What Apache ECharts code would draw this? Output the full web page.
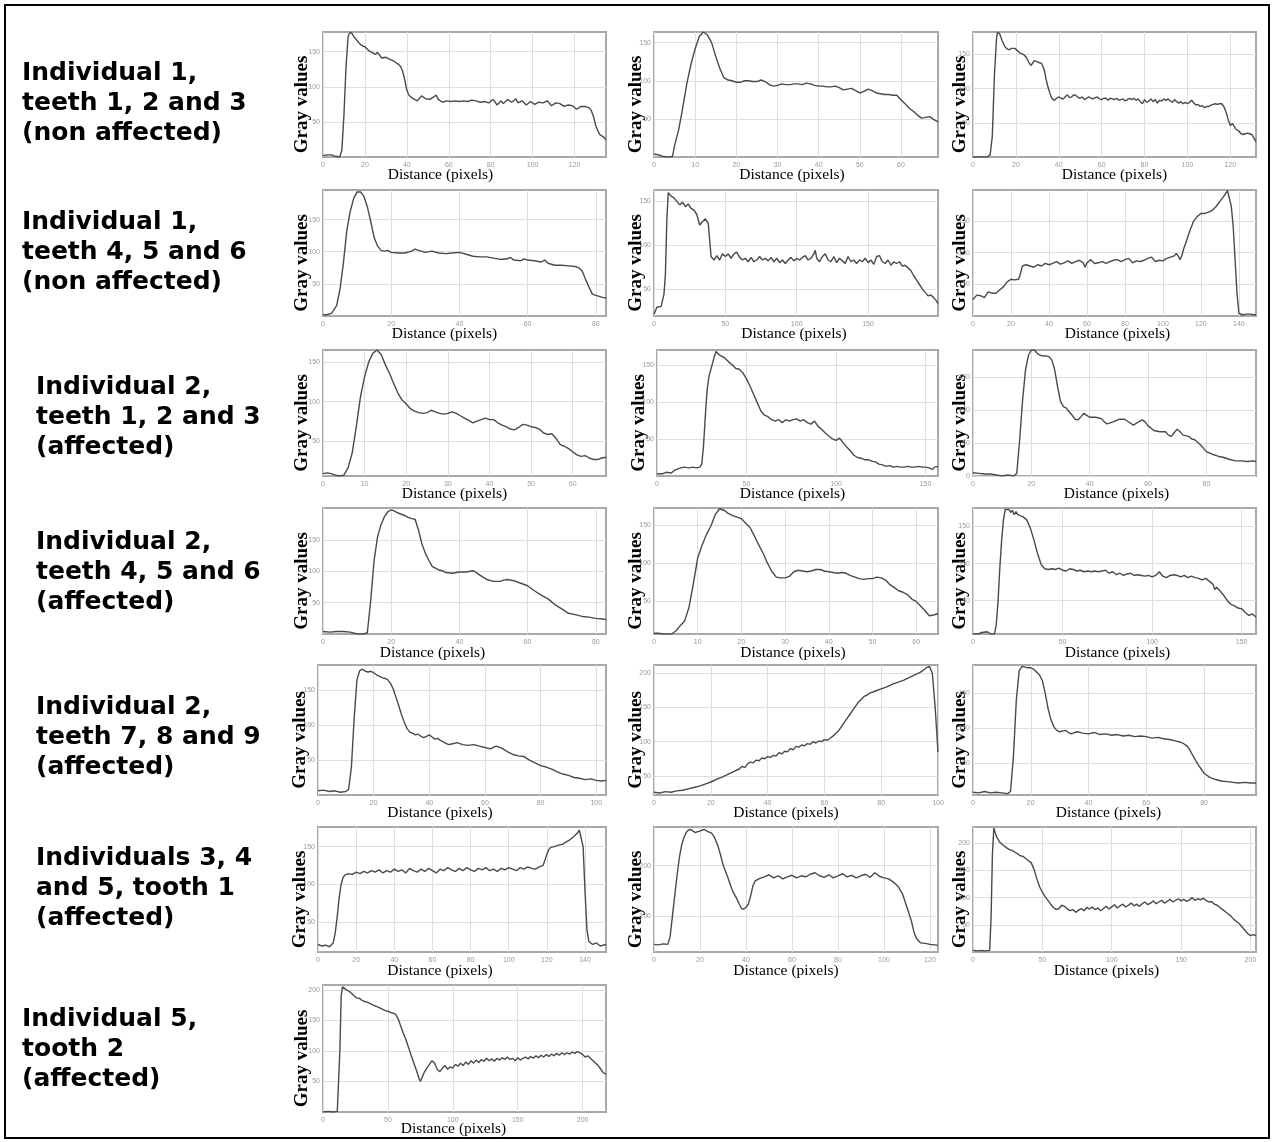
<!DOCTYPE html>
<html><head><meta charset="utf-8">
<script src="https://cdn.jsdelivr.net/npm/echarts@6/dist/echarts.min.js"></script>
<style>html,body{margin:0;padding:0;background:#fff}#c{width:1274px;height:1142px}</style>
</head><body><div id="c"></div>
<script>
// ---------- row labels ----------
const rowLabels = [
  "Individual 1,\nteeth 1, 2 and 3\n(non affected)",
  "Individual 1,\nteeth 4, 5 and 6\n(non affected)",
  "Individual 2,\nteeth 1, 2 and 3\n(affected)",
  "Individual 2,\nteeth 4, 5 and 6\n(affected)",
  "Individual 2,\nteeth 7, 8 and 9\n(affected)",
  "Individuals 3, 4\nand 5, tooth 1\n(affected)",
  "Individual 5,\ntooth 2\n(affected)"
];
const xAxisTitle = "Distance (pixels)";
const yAxisTitle = "Gray values";

// ---------- profiles: [distance, gray value] ----------
const profile1 = [[0,2],[2,3],[4,3],[6,1],[8,0],[9,10],[10,60],[11,130],[12,172],[13,178],[14,175],[15,170],[16,167],[17,163],[18,160],[19,158],[20,157],[22,151],[24,148],[25,146],[26,149],[27,145],[28,141],[30,142],[32,139],[34,136],[36,132],[37,129],[38,122],[39,110],[40,95],[41,88],[43,83],[45,80],[47,87],[49,83],[51,82],[53,86],[54,88],[55,82],[57,78],[59,80],[61,79],[63,80],[65,79],[67,80],[69,79],[71,81],[73,80],[75,78],[77,79],[79,77],[81,82],[82,79],[83,74],[85,80],[86,76],[88,82],[90,78],[92,83],[93,77],[95,80],[97,74],[99,79],[101,75],[103,78],[105,77],[107,80],[109,73],[111,77],[113,76],[115,72],[117,74],[119,73],[121,68],[123,72],[125,72],[127,70],[128,66],[129,58],[130,46],[131,38],[132,32],[133,30],[134,28],[135,24]];
const profile2 = [[0,4],[1,3],[2,1],[3,0],[4,0],[4.5,1],[5,15],[6,36],[7,65],[8,97],[9,122],[10,142],[11,158],[12,164],[13,160],[14,150],[15,132],[16,116],[17,104],[18,101],[19,100],[20,98],[21,98],[22,100],[23,100],[24,99],[25,99],[26,101],[27,99],[28,95],[29,93],[30,94],[31,96],[32,95],[33,95],[34,96],[35,96],[36,95],[37,97],[38,96],[39,94],[40,93],[41,93],[42,92],[43,92],[44,93],[45,91],[46,88],[47,89],[48,90],[49,87],[50,84],[51,86],[52,89],[53,87],[54,84],[55,83],[56,82],[57,82],[58,81],[59,81],[60,75],[61,70],[62,64],[63,60],[64,55],[65,51],[66,52],[67,53],[68,49],[69,46]];
const profile3 = [[0,0],[2,0],[4,0],[6,0],[7,1],[8,3],[9,30],[10,120],[11,175],[11.5,183],[12.5,180],[13.5,171],[15,161],[16,158],[17,157],[18,159],[18.5,161],[19.5,159],[20,157],[21,155],[22,152],[23,151],[24,149],[25,145],[26,139],[27,134],[28,138],[28.5,141],[29.5,140],[30,139],[31,138],[32,137],[33,130],[33.5,124],[34,115],[35,102],[36,92],[36.5,88],[37,85],[38,83],[39,86],[40,88],[41,86],[42,85],[43,88],[44,91],[45,87],[46,88],[47,91],[48,90],[49,87],[50,86],[51,88],[52,84],[53,86],[54,88],[55,86],[56,85],[57,87],[58,88],[59,85],[60,84],[61,86],[62,86],[63,83],[64,86],[65,85],[66,84],[67,86],[68,83],[69,84],[70,85],[71,82],[72,84],[73,86],[74,84],[75,86],[76,83],[77,85],[78,81],[79,78],[80,84],[81,80],[82,82],[83,85],[84,81],[85,84],[86,79],[87,83],[88,82],[89,85],[90,83],[91,85],[92,82],[93,80],[94,84],[95,81],[96,79],[97,81],[98,78],[99,80],[100,78],[101,80],[102,83],[103,79],[104,76],[105,77],[106,74],[107,75],[108,72],[109,74],[110,74],[111,76],[112,77],[113,78],[114,77],[115,78],[115.5,79],[116,78],[117,74],[118,66],[118.5,61],[119,55],[120,46],[121,49],[122,44],[122.5,41],[123,40],[124,38],[125,34],[125.5,32],[126,33],[127,34],[128,35],[129,34],[130,33],[130.5,32],[131,28],[132,22]];
const profile4 = [[0,2],[1,2],[2.5,4],[4,16],[5,42],[6,83],[7,134],[8,163],[9,183],[10,193],[11,193],[12,186],[13,170],[14,147],[15,122],[16,109],[17,102],[18,101],[19,102],[20,99],[22,98],[24,98],[26,101],[27,104],[28,102],[30,99],[32,101],[34,98],[36,97],[38,98],[40,99],[42,96],[44,93],[46,92],[48,92],[50,90],[52,88],[54,89],[55,91],[56,87],[58,86],[59,89],[60,87],[62,86],[64,84],[65,87],[66,82],[68,79],[70,79],[72,78],[74,77],[75,75],[76,70],[77,57],[78,45],[79,34],[80,32],[82,29],[83,28]];
const profile5 = [[0,21],[2,29],[5,30],[7,44],[8,67],[9,129],[10,160],[11,162],[12,156],[14,154],[16,150],[18,146],[20,149],[22,144],[24,147],[26,142],[28,140],[30,135],[32,123],[34,127],[36,130],[38,125],[39,106],[40,87],[42,83],[44,88],[46,83],[48,90],[50,87],[52,90],[54,85],[56,90],[58,92],[60,86],[62,83],[64,85],[66,81],[68,86],[70,81],[72,83],[74,87],[76,83],[78,85],[80,82],[82,86],[84,81],[86,85],[88,80],[90,83],[92,79],[94,83],[96,86],[98,82],[100,85],[102,83],[104,86],[106,88],[108,83],[110,85],[112,90],[113,94],[114,85],[116,81],[118,87],[120,90],[122,83],[124,81],[126,87],[128,80],[130,85],[132,82],[134,79],[136,87],[138,81],[140,83],[142,79],[144,83],[146,81],[148,85],[150,80],[152,83],[154,78],[156,87],[158,88],[160,81],[162,79],[164,83],[166,77],[168,81],[170,79],[172,81],[174,76],[176,77],[178,74],[180,71],[182,65],[184,60],[186,55],[188,50],[190,46],[192,42],[194,43],[196,40],[198,36],[199,33]];
const profile6 = [[0,26],[2,33],[4,32],[6,29],[8,38],[10,36],[12,36],[14,41],[16,46],[18,54],[20,58],[22,57],[24,58],[25,67],[26,79],[28,81],[30,79],[32,77],[34,81],[36,79],[38,83],[40,81],[42,83],[44,86],[46,82],[48,84],[50,87],[52,83],[54,86],[56,88],[58,84],[59,77],[60,84],[62,89],[64,83],[66,84],[68,86],[70,83],[72,86],[74,88],[76,89],[78,86],[80,89],[82,91],[84,84],[86,87],[88,86],[90,88],[92,91],[94,93],[96,86],[98,88],[100,87],[102,91],[104,93],[106,95],[107,99],[108,95],[109,89],[110,96],[111,107],[112,115],[114,133],[116,149],[118,157],[120,162],[122,162],[124,164],[126,167],[128,173],[130,181],[132,189],[134,198],[135,196],[136,173],[137,141],[138,88],[139,36],[140,4],[142,2],[144,3],[146,3],[148,2],[149,2]];
const profile7 = [[0,8],[1,9],[2,8],[3,6],[4,5],[5,6],[6,15],[7,34],[8,68],[9,106],[10,132],[11,151],[12,162],[13,166],[14,160],[15,147],[16,136],[17,123],[18,111],[19,102],[20,97],[21,91],[22,88],[23,86],[24,85],[25,86],[26,89],[27,87],[28,85],[29,84],[30,85],[31,87],[32,85],[33,82],[34,79],[35,76],[36,73],[37,75],[38,77],[39,79],[40,77],[41,77],[42,73],[43,70],[44,68],[45,65],[46,64],[47,67],[48,71],[49,70],[50,68],[51,67],[52,65],[53,60],[54,58],[55,59],[56,53],[57,45],[58,43],[59,40],[60,36],[61,32],[62,30],[63,31],[64,28],[65,26],[66,26],[67,28],[68,29]];
const profile8 = [[0,3],[3,3],[5,5],[8,4],[10,8],[12,10],[15,12],[18,11],[20,12],[22,11],[24,12],[25,16],[26,41],[27,81],[28,116],[29,134],[30,143],[31,152],[32,161],[33,168],[34,169],[35,163],[36,162],[38,159],[40,154],[42,150],[44,145],[46,144],[48,139],[50,131],[52,121],[54,110],[56,99],[58,88],[60,82],[62,80],[64,76],[66,74],[68,76],[70,72],[72,76],[74,74],[76,76],[78,77],[80,74],[82,76],[84,72],[86,70],[88,74],[90,67],[92,63],[94,58],[96,54],[98,50],[100,48],[102,51],[104,45],[106,39],[108,34],[110,28],[112,25],[114,24],[116,22],[118,22],[120,20],[122,19],[124,16],[126,15],[128,13],[130,14],[132,12],[134,13],[136,12],[138,12],[140,13],[142,12],[144,12],[146,13],[148,12],[150,12],[152,11],[154,9],[155,12],[157,13]];
const profile9 = [[0,5],[2,4],[4,3],[6,3],[8,1.5],[10,0],[12,1.5],[14,0],[15,4],[16,55],[17,115],[18,161],[19,183],[20,191],[21,191],[22,186],[23,183],[24,182],[25,182],[26,181],[27,176],[28,161],[29,135],[30,113],[31,105],[32,103],[33,97],[34,92],[35,86],[36,85],[37,90],[38,95],[39,92],[40,89],[42,89],[44,87],[45,82],[46,79],[48,82],[50,86],[52,86],[54,80],[55,77],[56,80],[58,85],[59,82],[60,76],[62,69],[64,67],[66,67],[67,62],[68,60],[69,66],[70,71],[71,67],[72,62],[74,60],[75,56],[76,55],[78,47],[80,37],[82,33],[84,30],[86,28],[88,25],[90,23],[92,23],[94,22],[96,23],[97,22]];
const profile10 = [[0,4],[2,3],[4,4],[6,4],[8,3],[10,0],[12,0],[13,2],[14,54],[15,118],[16,155],[17,174],[18,187],[19,195],[20,198],[21,196],[22,193],[23,191],[24,189],[25,186],[26,184],[27,183],[28,166],[29,144],[30,129],[31,118],[32,108],[33,105],[34,102],[35,101],[36,98],[38,97],[40,99],[42,99],[44,101],[45,98],[46,94],[48,87],[50,84],[52,84],[53,86],[54,87],[56,85],[58,81],[60,77],[62,69],[64,62],[66,56],[68,47],[70,40],[72,33],[74,31],[76,28],[78,27],[80,25],[82,24],[83,23]];
const profile11 = [[0,8],[1,8],[2,7],[3,7],[4,7],[5,11],[6,18],[7,24],[8,42],[9,73],[10,107],[11,124],[12,138],[13,149],[14,164],[15,172],[16,170],[17,166],[18,163],[19,161],[20,159],[21,153],[22,147],[23,136],[24,124],[25,113],[26,100],[27,89],[28,82],[29,81],[30,81],[31,83],[32,89],[33,91],[34,90],[35,89],[36,90],[37,92],[38,92],[39,90],[40,89],[41,88],[42,87],[43,88],[44,87],[45,84],[46,82],[47,80],[48,79],[49,80],[50,80],[51,82],[52,81],[53,78],[54,72],[55,68],[56,64],[57,62],[58,59],[59,53],[60,50],[61,44],[62,38],[63,31],[64,32],[65,34]];
const profile12 = [[0,5],[3,5],[5,7],[8,8],[10,5],[12,5],[13,18],[14,50],[15,95],[16,132],[17,159],[18,173],[19,175],[20,173],[21,169],[22,172],[23,166],[24,170],[25,166],[26,164],[28,163],[30,159],[32,148],[34,132],[36,114],[38,99],[40,93],[42,92],[44,93],[46,92],[48,94],[50,91],[52,90],[54,93],[56,92],[58,90],[60,91],[62,89],[64,90],[66,89],[68,90],[70,89],[72,90],[74,91],[76,87],[78,89],[80,85],[82,87],[84,84],[86,86],[88,87],[90,84],[92,85],[94,84],[96,83],[98,84],[100,82],[102,84],[104,89],[106,83],[108,81],[110,84],[112,85],[114,84],[116,82],[118,84],[120,81],[122,83],[124,81],[126,80],[128,78],[130,80],[132,76],[134,72],[135,65],[136,68],[138,63],[140,57],[142,50],[144,45],[146,43],[148,40],[150,39],[152,34],[154,30],[156,32],[158,28]];
const profile13 = [[0,6],[2,7],[4,5],[6,6],[8,4],[10,5],[11,8],[12,40],[13,110],[14,165],[15,178],[16,180],[17,177],[18,176],[19,177],[20,175],[21,172],[22,170],[23,168],[24,167],[25,165],[26,160],[27,152],[28,140],[29,128],[30,115],[31,104],[32,95],[33,90],[34,88],[35,86],[36,87],[37,84],[38,82],[39,84],[40,86],[41,83],[42,80],[43,81],[44,78],[45,76],[46,74],[47,72],[48,73],[50,75],[52,72],[54,71],[56,72],[58,70],[60,68],[62,66],[63,68],[64,70],[66,67],[68,62],[70,58],[72,56],[74,55],[76,50],[78,46],[80,42],[82,40],[84,37],[86,33],[88,30],[90,28],[92,25],[94,24],[96,22],[98,23],[100,21],[102,20],[103.5,21]];
const profile14 = [[0,26],[2,25],[4,27],[6,26],[8,28],[10,29],[12,31],[14,33],[16,35],[18,38],[20,41],[22,45],[24,48],[26,52],[28,56],[30,60],[31,64],[32,62],[33,68],[34,70],[35,69],[36,73],[37,72],[38,76],[39,75],[40,78],[41,77],[42,80],[43,79],[44,84],[45,82],[46,86],[47,85],[48,90],[49,88],[50,93],[51,92],[52,95],[53,94],[54,97],[55,96],[56,100],[57,98],[58,101],[59,100],[60,103],[61,102],[62,105],[63,108],[64,112],[65,116],[66,122],[67,128],[68,134],[69,140],[70,146],[71,152],[72,158],[73,162],[74,166],[75,168],[76,171],[78,174],[80,177],[82,180],[84,184],[86,187],[88,190],[90,194],[92,198],[94,202],[95,205],[96,208],[97,210],[98,200],[99,150],[100,85]];
const profile15 = [[0,9],[2,8],[4,10],[6,8],[8,9],[10,8],[12,7],[13,10],[14,60],[15,140],[16,182],[17,188],[18,187],[19,186],[20,186],[21,184],[22,180],[23,176],[24,168],[25,150],[26,128],[27,112],[28,102],[29,97],[30,95],[32,97],[33,94],[34,92],[36,95],[38,93],[40,92],[42,94],[44,91],[46,92],[48,90],[50,91],[52,89],[54,90],[56,88],[58,89],[60,88],[62,86],[64,87],[66,85],[68,84],[70,82],[72,80],[73,78],[74,75],[75,70],[76,62],[77,55],[78,48],[79,42],[80,36],[82,30],[84,27],[86,25],[88,24],[90,23],[92,22],[94,23],[96,22],[98,22]];
const profile16 = [[0,20],[2,18],[4,19],[6,17],[8,22],[9,35],[10,55],[11,80],[12,98],[13,108],[14,112],[16,114],[18,113],[20,116],[22,114],[24,117],[26,115],[28,118],[30,116],[32,119],[34,115],[36,118],[38,116],[40,120],[42,117],[44,119],[46,115],[48,121],[50,118],[52,116],[54,120],[56,117],[58,121],[60,118],[62,115],[64,120],[66,118],[68,122],[70,119],[72,117],[74,121],[76,118],[78,122],[80,119],[82,117],[84,121],[86,119],[88,122],[90,118],[92,120],[94,117],[96,121],[98,119],[100,122],[102,120],[104,118],[106,122],[108,120],[110,123],[112,121],[114,120],[116,123],[118,125],[119,132],[120,140],[121,146],[122,149],[124,150],[126,152],[128,153],[130,156],[132,159],[134,163],[136,168],[137,172],[138,174],[139,150],[140,90],[141,40],[142,24],[144,20],[146,22],[148,18],[151,20]];
const profile17 = [[0,45],[2,44],[4,46],[6,45],[7,60],[8,100],[9,140],[10,180],[11,215],[12,240],[13,255],[14,265],[15,270],[16,271],[17,268],[18,265],[19,267],[20,268],[21,270],[22,271],[23,268],[24,266],[25,264],[26,258],[27,248],[28,236],[29,220],[30,202],[31,190],[32,178],[33,165],[34,152],[35,143],[36,135],[37,125],[38,116],[39,114],[40,118],[41,124],[42,140],[43,160],[44,170],[46,175],[48,178],[50,182],[52,176],[54,180],[56,174],[58,178],[60,181],[62,176],[64,180],[66,178],[68,183],[70,186],[72,180],[74,177],[76,182],[78,176],[80,180],[82,184],[84,178],[86,181],[88,176],[90,180],[92,183],[94,177],[96,186],[98,179],[100,176],[102,174],[104,168],[106,160],[108,145],[110,118],[112,90],[113,70],[114,58],[115,52],[116,48],[118,47],[120,45],[122,44],[123.5,43]];
const profile18 = [[0,3],[3,2],[6,3],[9,2],[12,3],[13,60],[14,180],[15,228],[16,220],[17,212],[18,208],[19,203],[20,200],[22,196],[24,192],[26,189],[28,187],[30,184],[32,181],[34,177],[36,176],[38,172],[40,168],[42,164],[44,152],[46,135],[48,120],[50,110],[52,102],[54,95],[56,88],[58,82],[60,78],[62,80],[64,86],[66,84],[68,79],[70,76],[72,78],[74,73],[76,77],[78,80],[80,76],[82,82],[84,79],[86,83],[88,78],[90,81],[92,76],[94,80],[96,84],[98,79],[100,83],[102,87],[104,81],[106,85],[108,88],[110,83],[112,86],[114,90],[116,85],[118,88],[120,84],[122,89],[124,92],[126,87],[128,90],[130,94],[132,89],[134,92],[136,95],[138,90],[140,93],[142,97],[144,92],[146,95],[148,98],[150,94],[152,97],[154,93],[156,96],[158,100],[160,95],[162,98],[164,96],[166,99],[168,95],[170,92],[172,93],[174,88],[176,86],[178,82],[180,78],[182,74],[184,70],[186,66],[188,60],[190,56],[192,52],[194,46],[196,40],[198,34],[200,30],[202,32],[204,30]];
const profile19 = [[0,0],[4,1],[8,0],[11,1],[12,3],[13,100],[14,190],[15,205],[16,204],[18,200],[20,198],[22,194],[24,190],[26,187],[28,186],[30,183],[32,181],[34,180],[36,178],[38,176],[40,174],[42,172],[44,170],[46,168],[48,166],[50,165],[52,163],[54,162],[56,160],[58,152],[60,140],[62,128],[64,118],[66,105],[68,92],[70,80],[72,68],[74,55],[75,50],[76,55],[78,65],[80,72],[82,78],[84,84],[86,80],[88,70],[90,66],[92,72],[94,76],[96,70],[98,74],[100,72],[102,78],[104,75],[106,80],[108,76],[110,82],[112,78],[114,84],[116,80],[118,85],[120,81],[122,86],[124,83],[126,88],[128,84],[130,87],[132,83],[134,88],[136,85],[138,89],[140,86],[142,90],[144,86],[146,88],[148,84],[150,89],[152,85],[154,88],[156,90],[158,87],[160,91],[162,88],[164,92],[166,89],[168,93],[170,90],[172,94],[174,91],[176,95],[178,92],[180,96],[182,93],[184,97],[186,94],[188,97],[190,95],[192,98],[194,96],[196,99],[198,97],[200,94],[202,90],[204,92],[206,88],[208,84],[210,80],[212,76],[214,70],[216,64],[218,62]];

// ---------- axis ranges ----------
const xMaxes = [135,69,132, 83,199,149, 68,157,97, 83,65,158, 103.5,100,98, 151,123.5,204, 218];
const yMins  = [0,0,0, 0,19,0, 5,0,0, 0,7,5, 0,22,5, 10,30,0, 0];
const yMaxes = [178,164,183, 196,163,199, 166,170,191, 201,173,175, 186,212,190, 176,276,230, 208];

// ---------- tick labels ----------
const xTicks = [
  [0,20,40,60,80,100,120],[0,10,20,30,40,50,60],[0,20,40,60,80,100,120],
  [0,20,40,60,80],[0,50,100,150],[0,20,40,60,80,100,120,140],
  [0,10,20,30,40,50,60],[0,50,100,150],[0,20,40,60,80],
  [0,20,40,60,80],[0,10,20,30,40,50,60],[0,50,100,150],
  [0,20,40,60,80,100],[0,20,40,60,80,100],[0,20,40,60,80],
  [0,20,40,60,80,100,120,140],[0,20,40,60,80,100,120],[0,50,100,150,200],
  [0,50,100,150,200]
];
const yTicks = [
  [50,100,150],[50,100,150],[50,100,150],
  [50,100,150],[50,100,150],[50,100,150],
  [50,100,150],[50,100,150],[0,50,100,150],
  [50,100,150],[50,100,150],[50,100,150],
  [50,100,150],[50,100,150,200],[50,100,150],
  [50,100,150],[100,200],[50,100,150,200],
  [50,100,150,200]
];

const profiles = [profile1,profile2,profile3,profile4,profile5,profile6,profile7,profile8,profile9,profile10,profile11,profile12,profile13,profile14,profile15,profile16,profile17,profile18,profile19];

// ---------- layout (pixels) ----------
const colBox = [[323,606],[654,938],[973,1256]];
const rowBox = [[32,157],[190,316],[350,476],[508,634],[665,795],[827,952],[985,1112]];
const leftOverride = {12:318, 15:318, 7:657};
const xNameShift = [-24,-4,0,-20,-2,3,-10,-5,2,-32,-3,3,-22,-10,-6,-22,-10,-8,-11];
const xNameGapByRow = [10,10,10,11,10,11,9];
const yNameGap = [11,8,3];
const labelPos = [[22,58],[22,207],[36,372],[36,527],[36,692],[36,843],[22,1004]];

const grids=[], xAxes=[], yAxes=[], series=[];
for (let i=0;i<19;i++){
  const row = Math.floor(i/3), col = i%3;
  const L = leftOverride[i] !== undefined ? leftOverride[i] : colBox[col][0];
  const R = colBox[col][1];
  const T = rowBox[row][0], B = rowBox[row][1];
  grids.push({left:L, top:T, width:R-L, height:B-T, show:true, borderColor:'#a8a8a8', borderWidth:2, backgroundColor:'#fff'});
  xAxes.push({
    type:'value', gridIndex:i, min:0, max:xMaxes[i],
    axisLine:{show:false}, axisTick:{show:false, customValues:xTicks[i]},
    axisLabel:{customValues:xTicks[i], fontSize:7, color:'#9a9a9a', margin:5, fontFamily:'Liberation Sans'},
    splitLine:{show:true, lineStyle:{color:'#dedede', width:1}},
    name:xAxisTitle, nameLocation:'middle', nameGap:xNameGapByRow[row], nameMoveOverlap:false,
    nameTextStyle:{fontFamily:'Liberation Serif', fontSize:15.5, color:'#000',
      padding: xNameShift[i] < 0 ? [0, -2*xNameShift[i], 0, 0] : [0, 0, 0, 2*xNameShift[i]]}
  });
  yAxes.push({
    type:'value', gridIndex:i, min:yMins[i], max:yMaxes[i],
    axisLine:{show:false}, axisTick:{show:false, customValues:yTicks[i]},
    axisLabel:{customValues:yTicks[i], fontSize:7, color:'#9a9a9a', margin:3, fontFamily:'Liberation Sans'},
    splitLine:{show:true, lineStyle:{color:'#dedede', width:1}},
    name:yAxisTitle, nameLocation:'middle', nameMoveOverlap:false,
    nameGap:(leftOverride[i]===318?8:yNameGap[col]),
    nameTextStyle:{fontFamily:'Liberation Serif', fontWeight:'bold', fontSize:19, color:'#000', padding:[0,20,0,0]}
  });
  series.push({type:'line', xAxisIndex:i, yAxisIndex:i, data:profiles[i], showSymbol:false,
    lineStyle:{color:'#4a4a4a', width:1.4}, silent:true});
}

const graphics = [{type:'rect', shape:{x:5,y:5,width:1264,height:1133}, style:{fill:'none', stroke:'#000', lineWidth:2}, silent:true}];
rowLabels.forEach((t,k)=>{
  graphics.push({type:'text', left:labelPos[k][0], top:labelPos[k][1], silent:true,
    style:{text:t, font:'bold 25px "DejaVu Sans"', fill:'#000', lineHeight:30}});
});

const chart = echarts.init(document.getElementById('c'), null, {renderer:'canvas'});
chart.setOption({animation:false, backgroundColor:'#fff', grid:grids, xAxis:xAxes, yAxis:yAxes, series:series, graphic:graphics});
</script></body></html>
